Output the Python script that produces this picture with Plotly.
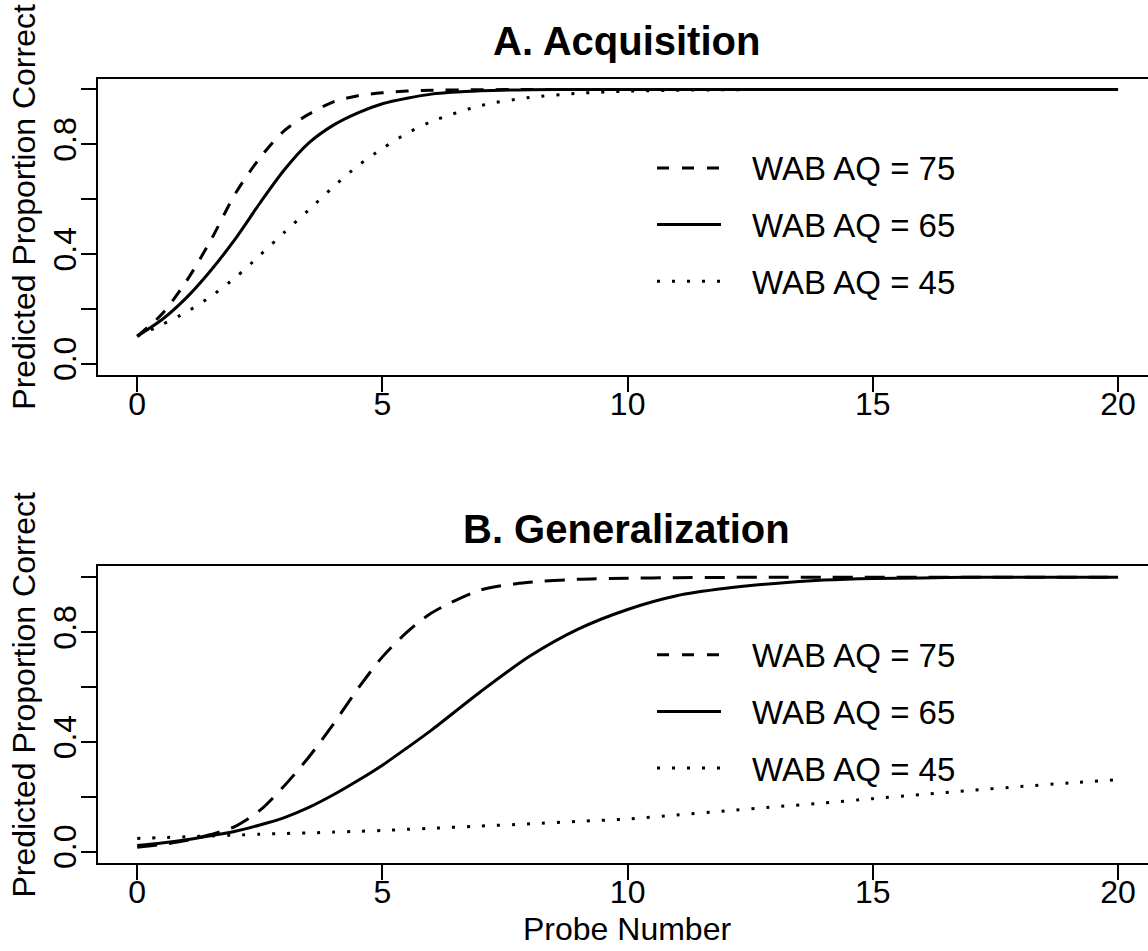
import plotly.graph_objects as go

# ---------------- data ----------------
probe = [0, 0.5, 1, 1.5, 2, 2.5, 3, 3.5, 4, 4.5, 5, 5.5, 6, 7, 8, 9, 10,
         11, 12, 13, 14, 15, 16, 17, 18, 19, 20]

series_labels = ["WAB AQ = 75", "WAB AQ = 65", "WAB AQ = 45"]

acq_aq75 = [0.100, 0.180, 0.300, 0.450, 0.620, 0.750, 0.850, 0.910, 0.955, 0.977,
            0.988, 0.994, 0.997, 0.999, 1.000, 1.000, 1.000, 1.000, 1.000, 1.000,
            1.000, 1.000, 1.000, 1.000, 1.000, 1.000, 1.000]
acq_aq65 = [0.100, 0.160, 0.240, 0.340, 0.455, 0.585, 0.707, 0.805, 0.870, 0.915,
            0.948, 0.968, 0.983, 0.995, 0.999, 1.000, 1.000, 1.000, 1.000, 1.000,
            1.000, 1.000, 1.000, 1.000, 1.000, 1.000, 1.000]
acq_aq45 = [0.100, 0.142, 0.188, 0.245, 0.314, 0.395, 0.479, 0.561, 0.645, 0.722,
            0.785, 0.840, 0.883, 0.941, 0.971, 0.986, 0.994, 0.997, 0.999, 1.000,
            1.000, 1.000, 1.000, 1.000, 1.000, 1.000, 1.000]

gen_aq75 = [0.016, 0.026, 0.040, 0.062, 0.092, 0.150, 0.240, 0.345, 0.465, 0.594,
            0.710, 0.800, 0.870, 0.954, 0.982, 0.993, 0.997, 0.999, 1.000, 1.000,
            1.000, 1.000, 1.000, 1.000, 1.000, 1.000, 1.000]
gen_aq65 = [0.022, 0.031, 0.043, 0.058, 0.074, 0.097, 0.124, 0.161, 0.207, 0.259,
            0.315, 0.378, 0.443, 0.583, 0.712, 0.812, 0.883, 0.933, 0.960, 0.978,
            0.990, 0.996, 0.998, 1.000, 1.000, 1.000, 1.000]
gen_aq45 = [0.048, 0.051, 0.054, 0.057, 0.060, 0.063, 0.066, 0.068, 0.071, 0.074,
            0.077, 0.081, 0.085, 0.093, 0.101, 0.110, 0.119, 0.133, 0.148, 0.163,
            0.177, 0.193, 0.208, 0.223, 0.237, 0.250, 0.262]

x_ticks = [0, 5, 10, 15, 20]
y_ticks = [0.0, 0.2, 0.4, 0.6, 0.8, 1.0]
y_tick_text = ["0.0", "", "0.4", "", "0.8", ""]

panel_titles = ["A. Acquisition", "B. Generalization"]
y_title = "Predicted Proportion Correct"
x_title = "Probe Number"

# ---------------- layout helpers ----------------
W, H = 1148, 951
FONT = "Liberation Sans, Arial, sans-serif"


def fx(p):
    return p / W


def fy(p):
    return 1 - p / H


fig = go.Figure()

panels = [
    dict(xa="x", ya="y", data=[acq_aq75, acq_aq65, acq_aq45],
         dashes=["13px,12px", "solid", "3px,12px"], off=0),
    dict(xa="x2", ya="y2", data=[gen_aq75, gen_aq65, gen_aq45],
         dashes=["20px,12px", "solid", "3px,12px"], off=491),
]

for pn in panels:
    for vals, dash, name in zip(pn["data"], pn["dashes"], series_labels):
        fig.add_trace(go.Scatter(
            x=probe, y=vals, mode="lines", name=name, showlegend=False,
            line=dict(color="black", width=3, dash=dash, shape="spline", smoothing=0.8),
            xaxis=pn["xa"], yaxis=pn["ya"], hoverinfo="skip"))

axis_common = dict(showgrid=False, zeroline=False, showline=True, linecolor="black",
                   linewidth=2, ticks="outside", ticklen=15, tickwidth=2,
                   tickcolor="black", tickfont=dict(family=FONT, size=32, color="black"))

xdom = [fx(97.5), 1.0]
xrange = [-0.81, 20.61]

layout = dict(
    width=W, height=H, margin=dict(l=0, r=0, t=0, b=0),
    paper_bgcolor="white", plot_bgcolor="white", showlegend=False,
    xaxis=dict(domain=xdom, range=xrange, tickvals=x_ticks, mirror=True, anchor="y",
               ticklabelstandoff=-15, **axis_common),
    yaxis=dict(domain=[fy(377), fy(79)], range=[-0.04, 1.04], tickvals=y_ticks,
               ticktext=y_tick_text, tickangle=-90, mirror=False, anchor="x",
               ticklabelstandoff=-8, **axis_common),
    xaxis2=dict(domain=xdom, range=xrange, tickvals=x_ticks, mirror=True, anchor="y2",
                ticklabelstandoff=-15, **axis_common),
    yaxis2=dict(domain=[fy(868), fy(570)], range=[-0.04, 1.04], tickvals=y_ticks,
                ticktext=y_tick_text, tickangle=-90, mirror=False, anchor="x2",
                ticklabelstandoff=-8, **axis_common),
)
fig.update_layout(**layout)

annotations = []
shapes = []
legend_rows = [169, 226, 283]
for i, pn in enumerate(panels):
    off = pn["off"]
    annotations.append(dict(
        x=fx(626), y=fy(41 + off), xref="paper", yref="paper", showarrow=False,
        text="<b>%s</b>" % panel_titles[i], xanchor="center", yanchor="middle",
        font=dict(family=FONT, size=40, color="black")))
    annotations.append(dict(
        x=fx(24), y=fy(208 + off), xref="paper", yref="paper", showarrow=False,
        text=y_title, textangle=-90, xanchor="center", yanchor="middle",
        font=dict(family=FONT, size=32, color="black")))
    for row, name, dash in zip(legend_rows, series_labels,
                               ["12px,13px", "solid", "3px,12px"]):
        yy = row + off - (1 if i == 1 else 0)
        shapes.append(dict(type="line", xref="paper", yref="paper",
                           x0=fx(657), x1=fx(721), y0=fy(yy), y1=fy(yy),
                           line=dict(color="black", width=3, dash=dash)))
        annotations.append(dict(
            x=fx(750), y=fy(yy + 1), xref="paper", yref="paper", showarrow=False,
            text=name, xanchor="left", yanchor="middle",
            font=dict(family=FONT, size=33, color="black")))

annotations.append(dict(
    x=fx(627), y=fy(935), xref="paper", yref="paper", showarrow=False,
    text=x_title, xanchor="center", yanchor="middle",
    font=dict(family=FONT, size=32, color="black")))

fig.update_layout(annotations=annotations, shapes=shapes)
fig.write_html("out.html",
               config={"displayModeBar": False},
               post_script="document.body.style.margin='0px';"
                           "document.body.style.overflow='hidden';")
